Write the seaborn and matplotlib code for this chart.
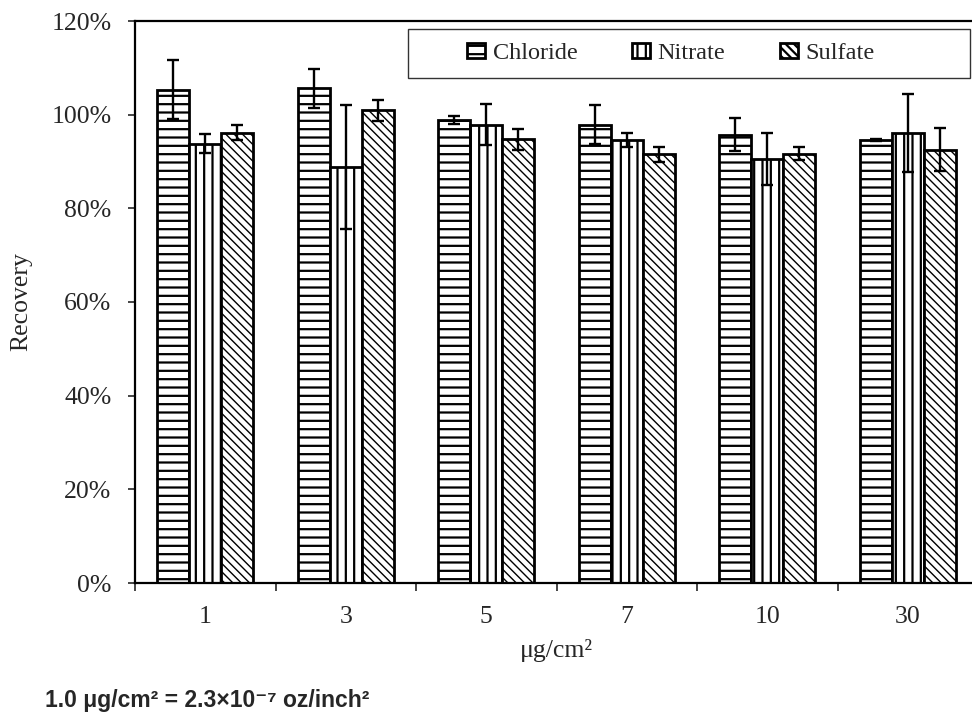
import numpy as np
import pandas as pd
import matplotlib
matplotlib.use("Agg")
import matplotlib.pyplot as plt
import matplotlib.patches as mpatches
from matplotlib.ticker import FuncFormatter, FixedLocator
import seaborn as sns

# ---- data ----
concentrations = ["1", "3", "5", "7", "10", "30"]
anions = ["Chloride", "Nitrate", "Sulfate"]
chloride = [105.3, 105.6, 98.9, 97.9, 95.7, 94.5]
nitrate = [93.8, 88.8, 97.9, 94.6, 90.5, 96.1]
sulfate = [96.1, 100.9, 94.7, 91.5, 91.7, 92.5]
chloride_err = [6.3, 4.2, 0.8, 4.1, 3.5, 0.2]
nitrate_err = [2.0, 13.3, 4.3, 1.5, 5.5, 8.4]
sulfate_err = [1.6, 2.3, 2.3, 1.5, 1.4, 4.6]
y_ticks = [0, 20, 40, 60, 80, 100, 120]

values = [chloride, nitrate, sulfate]
errors = [chloride_err, nitrate_err, sulfate_err]

df = pd.DataFrame({
    "conc": np.tile(concentrations, len(anions)),
    "anion": np.repeat(anions, len(concentrations)),
    "recovery": np.concatenate(values),
})

sns.set_style("ticks")
plt.rcParams["font.family"] = ["Liberation Serif", "DejaVu Serif"]
plt.rcParams["hatch.linewidth"] = 1.6
plt.rcParams["hatch.color"] = "black"

fig = plt.figure(figsize=(9.72, 7.15), dpi=100)
ax = fig.add_axes([135 / 972, 1 - 583 / 715, 843 / 972, (583 - 21) / 715])

sns.barplot(data=df, x="conc", y="recovery", hue="anion", order=concentrations,
            hue_order=anions, palette=["white"] * 3, edgecolor="black",
            linewidth=2.0, width=0.68, errorbar=None, ax=ax, legend=False)

hatches = ["--", "||", "\\\\\\\\"]
for cont, h, vals, errs in zip(ax.containers, hatches, values, errors):
    xs = []
    for p in cont.patches:
        p.set_hatch(h)
        p.set_facecolor("white")
        p.set_edgecolor("black")
        if h.startswith("\\"):
            try:
                p.set_hatch_linewidth(1.0)
            except Exception:
                pass
        xs.append(p.get_x() + p.get_width() / 2)
    ax.errorbar(xs, vals, yerr=errs, fmt="none", ecolor="black",
                elinewidth=1.7, capsize=4.3, capthick=1.7, zorder=5)

ax.set_ylim(0, 120)
ax.set_xlim(-0.5, len(concentrations) - 0.5)
ax.yaxis.set_major_locator(FixedLocator(y_ticks))
ax.yaxis.set_major_formatter(FuncFormatter(lambda v, _: f"{v:.0f}%"))
ax.xaxis.set_minor_locator(FixedLocator(np.arange(-0.5, len(concentrations), 1.0)))
ax.tick_params(axis="x", which="major", length=0, pad=16.5, labelsize=18.5)
ax.tick_params(axis="x", which="minor", length=5.8, width=1.2, direction="out")
ax.tick_params(axis="y", which="major", length=5, width=1.2, direction="out",
               pad=12, labelsize=18.5)

for s in ax.spines.values():
    s.set_visible(True)
    s.set_linewidth(1.6)
    s.set_color("black")

ax.set_xlabel("μg/cm²", fontsize=18.5, labelpad=8)
ax.set_ylabel("Recovery", fontsize=18.5, labelpad=14)

# legend box
ax.add_patch(mpatches.Rectangle(((408 - 135) / 843, (583 - 78) / 562),
                                (970 - 408) / 843, (78 - 29) / 562,
                                transform=ax.transAxes, facecolor="white",
                                edgecolor="#333333", linewidth=1.0, zorder=6))
leg = ax.legend(ax.containers, anions, loc="center", ncol=3,
                bbox_to_anchor=((671 - 135) / 843, (583 - 53.5) / 562),
                frameon=False, fontsize=17.5, handlelength=0.72,
                handleheight=0.6, handletextpad=0.33, columnspacing=2.25)
leg.set_zorder(7)

fig.text(45 / 972, 1 - 707 / 715, "1.0 μg/cm² = 2.3×10⁻⁷ oz/inch²",
         fontsize=16.5, fontweight="bold",
         family=["Liberation Sans", "DejaVu Sans"], ha="left", va="baseline")

fig.savefig("out.png", dpi=100)
